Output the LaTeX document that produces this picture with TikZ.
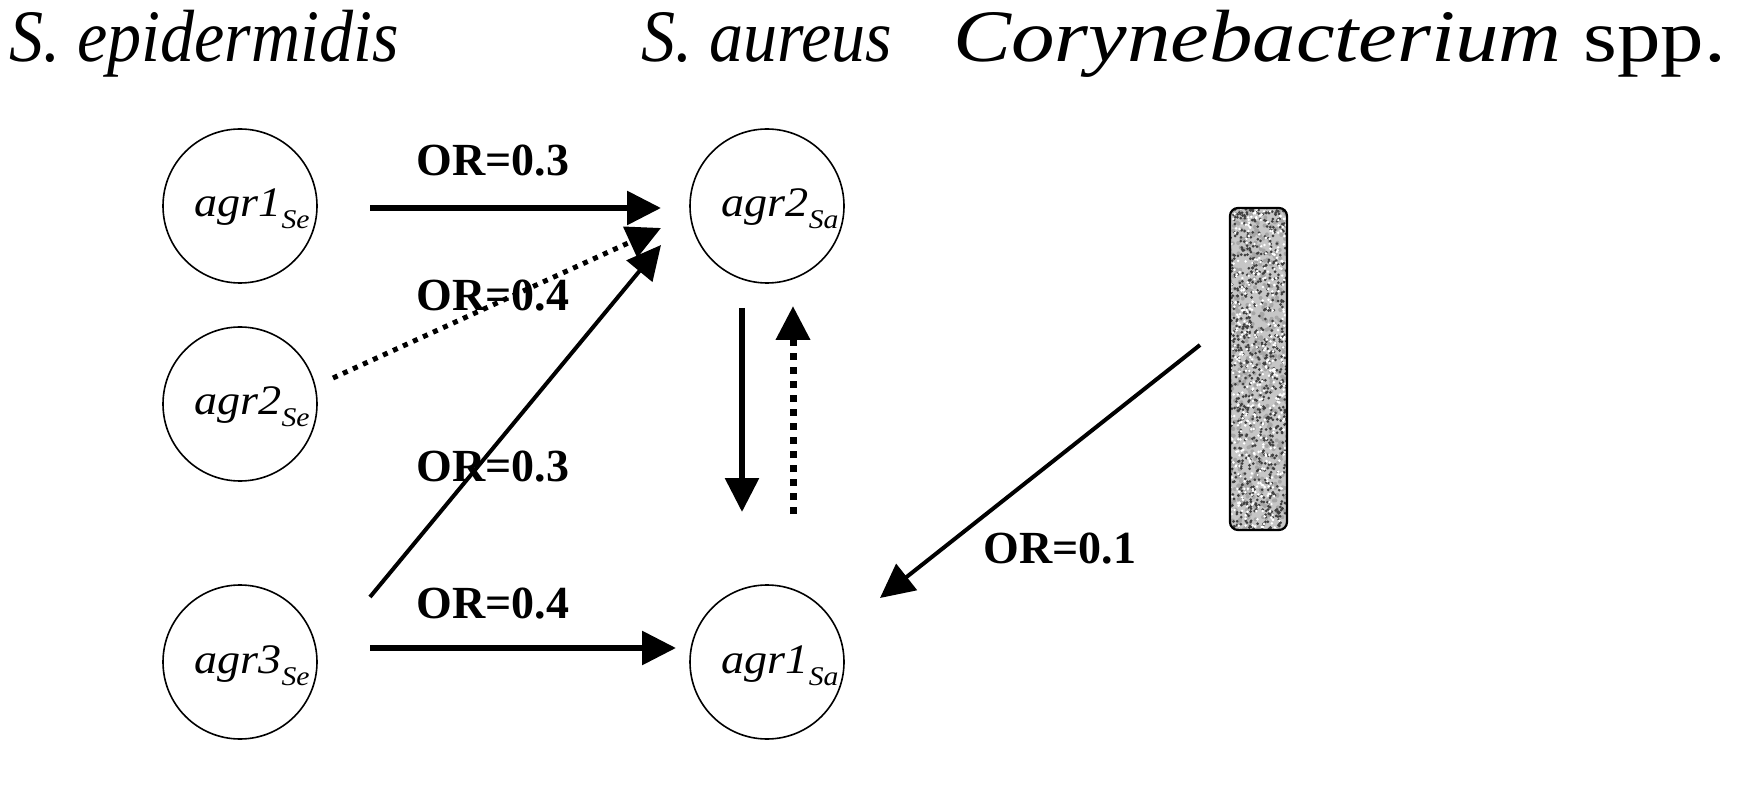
\documentclass[tikz,border=0pt]{standalone}
\usepackage{fontspec}
\setmainfont{Liberation Serif}
\newfontfamily\headfont[FakeStretch=0.92]{Liberation Serif}
\newfontfamily\widefont[FakeStretch=1.1]{Liberation Serif}
\newfontfamily\corfont[FakeStretch=1.175]{Liberation Serif}
\usetikzlibrary{arrows.meta,calc}
\tikzset{
  gene/.style={circle, draw, line width=1.6pt, minimum size=154pt, inner sep=0pt},
  genetext/.style={anchor=base, inner sep=0pt, font=\widefont\fontsize{42}{44}\selectfont\itshape},
  orlab/.style={anchor=base, inner sep=0pt, font=\fontsize{46}{48}\selectfont\bfseries},
  heading/.style={anchor=base west, inner sep=0pt, font=\headfont\fontsize{74}{76}\selectfont\itshape},
  tip/.style={-{Triangle[length=34pt,width=33pt]}},
  fatlink/.style={tip, line width=6pt},
  thinlink/.style={tip, line width=4pt},
  dotlink/.style={tip, line width=5pt, dash pattern=on 5pt off 6pt},
  vdotlink/.style={tip, line width=7pt, dash pattern=on 7pt off 7pt},
}
\newcommand{\sbs}[1]{\raisebox{-12pt}{\fontsize{27}{28}\selectfont #1}}
\begin{document}
\begin{tikzpicture}[x=1pt,y=-1pt]
\useasboundingbox (0,0) rectangle (1738,791);
\fill[white] (0,0) rectangle (1738,791);
% headings
\node[heading] (hse) at (9,62) {S. epidermidis};
\node[heading] (hsa) at (641,62) {S. aureus};
\node[heading, font=\corfont\fontsize{74}{76}\selectfont\itshape] (hco) at (953,62) {Corynebacterium \upshape spp.};
% genes
\node[gene] (se1) at (240,206) {};
\node[gene] (se2) at (240,404) {};
\node[gene] (se3) at (240,662) {};
\node[gene] (sa2) at (767,206) {};
\node[gene] (sa1) at (767,662) {};
\node[genetext] (tse1) at ($(se1)+(12,11)$) {agr1\sbs{Se}};
\node[genetext] (tse2) at ($(se2)+(12,11)$) {agr2\sbs{Se}};
\node[genetext] (tse3) at ($(se3)+(12,11)$) {agr3\sbs{Se}};
\node[genetext] (tsa2) at ($(sa2)+(13,11)$) {agr2\sbs{Sa}};
\node[genetext] (tsa1) at ($(sa1)+(13,11)$) {agr1\sbs{Sa}};
% Corynebacterium bar
\begin{scope}
\clip[rounded corners=8pt] (1230,208) rectangle (1287,530);
\fill[gray!45] (1230,208) rectangle (1287,530);
\pgfmathsetseed{7}
\foreach \i in {1,...,500} {\fill[gray!70] ({1230+57*rnd},{208+322*rnd}) circle (2pt);}
\foreach \i in {1,...,800} {\fill[black!75] ({1230+57*rnd},{208+322*rnd}) circle (1.5pt);}
\foreach \i in {1,...,450} {\fill[white] ({1230+57*rnd},{208+322*rnd}) circle (1.4pt);}
\end{scope}
\node[draw, line width=2.2pt, rounded corners=8pt, minimum width=57pt, minimum height=322pt, inner sep=0pt] (bar) at (1258.5,369) {};
% connector end points
\coordinate (a1s) at (370,208);  \coordinate (a1e) at (661,208);
\coordinate (a2s) at (333,378);  \coordinate (a2e) at (661,228);
\coordinate (a3s) at (370,597);  \coordinate (a3e) at (661,245);
\coordinate (a4s) at (370,648);  \coordinate (a4e) at (676,648);
\coordinate (v1s) at (742,308);  \coordinate (v1e) at (742,512);
\coordinate (v2s) at (793,514);  \coordinate (v2e) at (793,306);
\coordinate (cs) at (1200,345);  \coordinate (ce) at (880,598);
% connectors
\draw[fatlink] (a1s) -- (a1e);
\draw[dotlink] (a2s) -- (a2e);
\draw[thinlink] (a3s) -- (a3e);
\draw[fatlink] (a4s) -- (a4e);
\draw[fatlink] (v1s) -- (v1e);
\draw[vdotlink] (v2s) -- (v2e);
\draw[thinlink] (cs) -- (ce);
% labels
\node[orlab] (l1) at (493,176) {OR=0.3};
\node[orlab] (l2) at (493,311) {OR=0.4};
\node[orlab] (l3) at (493,481) {OR=0.3};
\node[orlab] (l4) at (493,618) {OR=0.4};
\node[orlab] (l5) at (1060,563) {OR=0.1};
\end{tikzpicture}
\end{document}
